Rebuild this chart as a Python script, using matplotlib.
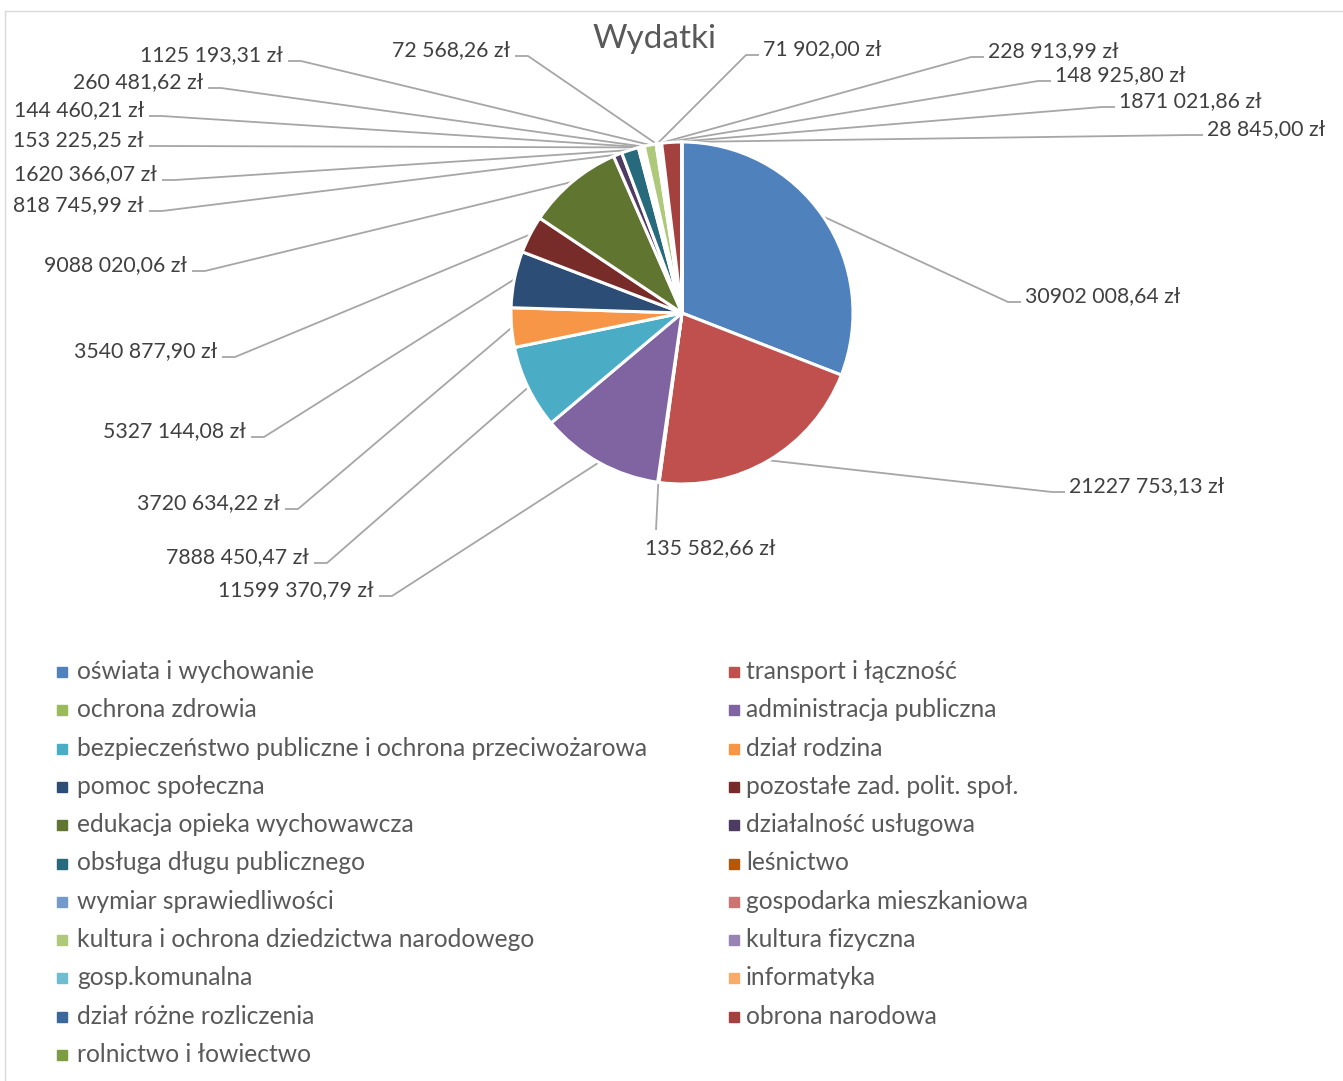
import matplotlib
matplotlib.use('Agg')
import matplotlib.pyplot as plt
import numpy as np

plt.rcParams['font.family'] = ['Lato', 'DejaVu Sans']

W, H = 1343, 1081

title = "Wydatki"

categories = [
    "oświata i wychowanie",
    "transport i łączność",
    "ochrona zdrowia",
    "administracja publiczna",
    "bezpieczeństwo publiczne i ochrona przeciwożarowa",
    "dział rodzina",
    "pomoc społeczna",
    "pozostałe zad. polit. społ.",
    "edukacja opieka wychowawcza",
    "działalność usługowa",
    "obsługa długu publicznego",
    "leśnictwo",
    "wymiar sprawiedliwości",
    "gospodarka mieszkaniowa",
    "kultura i ochrona dziedzictwa narodowego",
    "kultura fizyczna",
    "gosp.komunalna",
    "informatyka",
    "dział różne rozliczenia",
    "obrona narodowa",
    "rolnictwo i łowiectwo",
]

values = [
    30902008.64, 21227753.13, 135582.66, 11599370.79, 7888450.47,
    3720634.22, 5327144.08, 3540877.90, 9088020.06, 818745.99,
    1620366.07, 153225.25, 144460.21, 260481.62, 1125193.31,
    72568.26, 71902.00, 228913.99, 148925.80, 1871021.86, 28845.00,
]

colors = [
    "#4F81BD", "#C0504D", "#9BBB59", "#8064A2", "#4BACC6", "#F79646",
    "#2C4D75", "#772C2A", "#5F7530", "#4D3B62", "#276A7C", "#B65708",
    "#729ACA", "#CD7371", "#AFC97A", "#9983B5", "#6FBDD1", "#F9AB6B",
    "#3A679C", "#A4403D", "#7E9C40",
]

# label layout (pixel coords from top-left): anchor x, baseline y, side
label_layout = [
    (1025, 302, 'r'), (1069, 492, 'r'), (645, 554, 'b'), (374, 596, 'l'),
    (309, 563, 'l'), (280, 509, 'l'), (246, 437, 'l'), (217, 357, 'l'),
    (187, 271, 'l'), (144, 211, 'l'), (157, 180, 'l'), (144, 146, 'l'),
    (144, 116, 'l'), (203, 88, 'l'), (283, 61, 'l'), (510, 56, 'l'),
    (763, 55, 'r'), (988, 57, 'r'), (1055, 81, 'r'), (1119, 107, 'r'),
    (1207, 135, 'r'),
]


def fmt(v):
    cents = int(round(v * 100))
    n, c = divmod(cents, 100)
    if n >= 1000:
        return f"{n // 1000} {n % 1000:03d},{c:02d} zł"
    return f"{n},{c:02d} zł"


def Y(y):
    return H - y


fig = plt.figure(figsize=(W / 100, H / 100), dpi=100)
ax = fig.add_axes([0, 0, 1, 1])

CX, CY, R = 682, 313, 171
wedges, _ = ax.pie(values, colors=colors, startangle=90, counterclock=False,
                   center=(CX, Y(CY)), radius=R,
                   wedgeprops=dict(edgecolor='white', linewidth=2.2))
ax.set_xlim(0, W)
ax.set_ylim(0, H)
ax.set_aspect('equal')
ax.axis('off')

line_color = '#A6A6A6'
text_color = '#404040'
LFS = 15.3
for w, v, (lx, ly, side) in zip(wedges, values, label_layout):
    mid = np.deg2rad((w.theta1 + w.theta2) / 2)
    ex, ey = CX + R * np.cos(mid), Y(CY) + R * np.sin(mid)
    s = fmt(v)
    if side == 'l':
        xs = [ex, lx + 18, lx + 5]
        ys = [ey, Y(ly), Y(ly)]
        ax.text(lx, Y(ly), s, ha='right', va='baseline', fontsize=LFS, color=text_color)
    elif side == 'r':
        xs = [ex, lx - 17, lx - 4]
        ys = [ey, Y(ly), Y(ly)]
        ax.text(lx, Y(ly), s, ha='left', va='baseline', fontsize=LFS, color=text_color)
    else:
        xs = [ex, 656]
        ys = [ey, Y(530)]
        ax.text(lx, Y(ly), s, ha='left', va='baseline', fontsize=LFS, color=text_color)
    ax.plot(xs, ys, color=line_color, lw=1.3, zorder=0, solid_capstyle='butt')

ax.text(654, Y(39), title, ha='center', va='center', fontsize=24, color='#595959')

# legend (row-major, two columns)
for i, (cat, col) in enumerate(zip(categories, colors)):
    row, c = divmod(i, 2)
    yc = 672 + row * 38.3
    mx = [62, 734][c]
    tx = [77, 746][c]
    ax.plot([mx], [Y(yc)], marker='s', ms=7, color=col, linestyle='none')
    ax.text(tx, Y(yc + 7), cat, ha='left', va='baseline', fontsize=17.7, color='#595959')

# chart border (top and left visible)
ax.plot([5, 5, W + 5], [Y(H + 5), Y(11), Y(11)], color='#D9D9D9', lw=1)

fig.savefig('out.png', dpi=100)
